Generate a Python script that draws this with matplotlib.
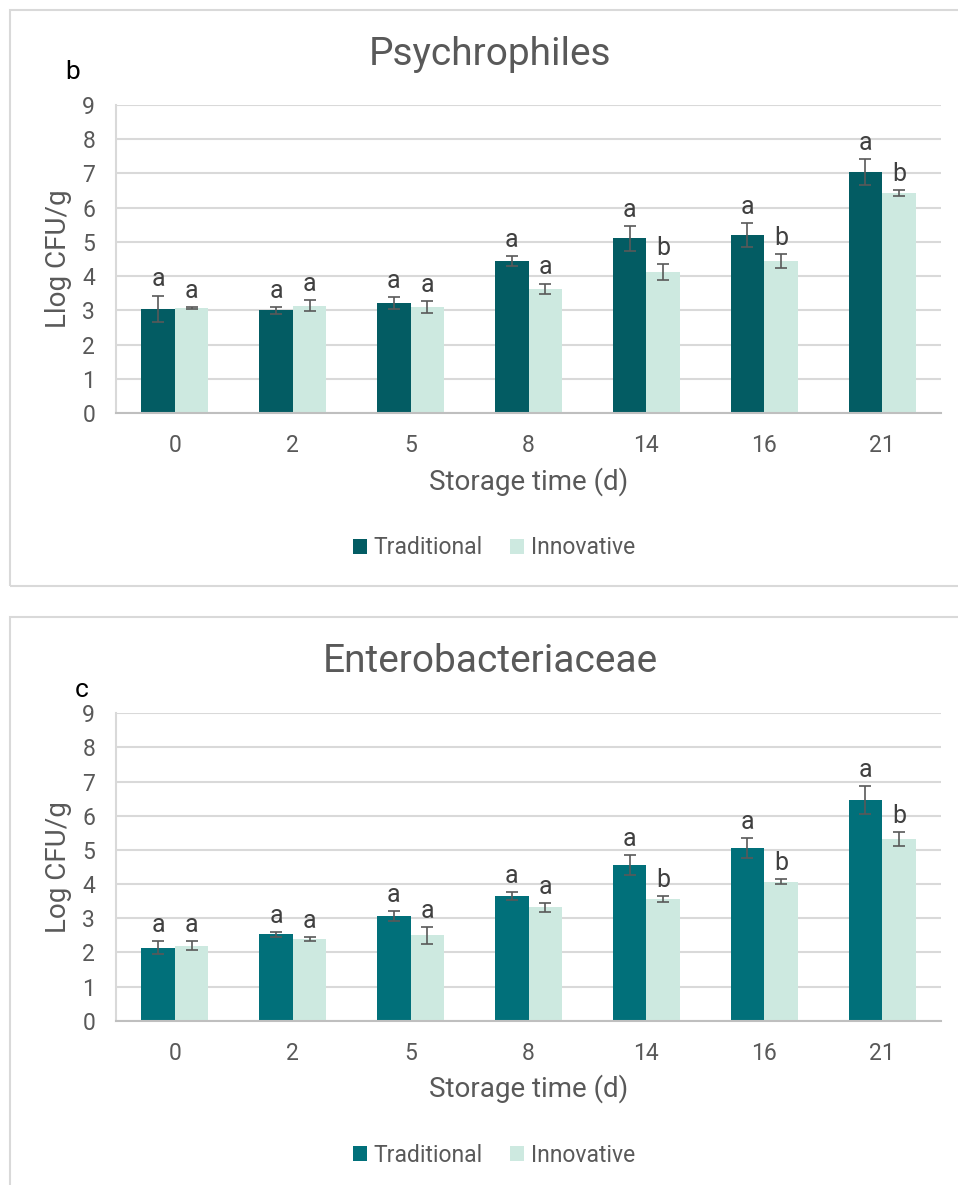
import numpy as np
import matplotlib
matplotlib.use('Agg')
from matplotlib import pyplot as plt
from matplotlib.patches import Rectangle

plt.rcParams['font.family'] = ['Roboto', 'DejaVu Sans']

days = ['0', '2', '5', '8', '14', '16', '21']
series = ['Traditional', 'Innovative']

# Psychrophiles (panel b)
psy_trad = [3.05, 3.00, 3.22, 4.44, 5.10, 5.20, 7.04]
psy_trad_err = [0.38, 0.10, 0.17, 0.15, 0.36, 0.36, 0.37]
psy_inno = [3.06, 3.13, 3.10, 3.63, 4.12, 4.44, 6.43]
psy_inno_err = [0.03, 0.16, 0.17, 0.15, 0.22, 0.20, 0.08]
psy_trad_letters = ['a', 'a', 'a', 'a', 'a', 'a', 'a']
psy_inno_letters = ['a', 'a', 'a', 'a', 'b', 'b', 'b']

# Enterobacteriaceae (panel c)
ent_trad = [2.13, 2.53, 3.06, 3.65, 4.56, 5.05, 6.46]
ent_trad_err = [0.19, 0.07, 0.14, 0.12, 0.30, 0.30, 0.40]
ent_inno = [2.19, 2.39, 2.50, 3.32, 3.56, 4.07, 5.32]
ent_inno_err = [0.13, 0.07, 0.25, 0.13, 0.08, 0.07, 0.21]
ent_trad_letters = ['a', 'a', 'a', 'a', 'a', 'a', 'a']
ent_inno_letters = ['a', 'a', 'a', 'a', 'b', 'b', 'b']

TEXT = '#595959'
INNO_COLOR = '#CDE9E0'

fig = plt.figure(figsize=(9.58, 11.85), dpi=100)

# chart borders like the Excel chart areas
fig.patches.append(Rectangle((10 / 958, 1 - 586 / 1185), 960 / 958, 576 / 1185,
                             transform=fig.transFigure, fill=False,
                             edgecolor='#D9D9D9', linewidth=1.5))
fig.patches.append(Rectangle((10 / 958, 1 - 1195 / 1185), 960 / 958, 578 / 1185,
                             transform=fig.transFigure, fill=False,
                             edgecolor='#D9D9D9', linewidth=1.5))


def draw_panel(rect, title, title_y, tag, tag_xy, ylabel, trad, trad_err, inno, inno_err,
               trad_letters, inno_letters, trad_color):
    ax = fig.add_axes(rect)
    x = np.arange(len(days))
    w = 0.284
    ax.bar(x - w / 2, trad, w, color=trad_color, label=series[0], zorder=2)
    ax.bar(x + w / 2, inno, w, color=INNO_COLOR, label=series[1], zorder=2)
    ax.errorbar(x - w / 2, trad, yerr=trad_err, fmt='none', ecolor=TEXT,
                elinewidth=1.2, capsize=4, capthick=1.2, zorder=3)
    ax.errorbar(x + w / 2, inno, yerr=inno_err, fmt='none', ecolor=TEXT,
                elinewidth=1.2, capsize=4, capthick=1.2, zorder=3)

    # significance letters above the error bars
    for xi, v, e, s in zip(x - w / 2, trad, trad_err, trad_letters):
        ax.annotate(s, (xi, v + e), xytext=(0, 3), textcoords='offset points',
                    ha='center', va='bottom', fontsize=18, color='#404040')
    for xi, v, e, s in zip(x + w / 2, inno, inno_err, inno_letters):
        ax.annotate(s, (xi, v + e), xytext=(0, 3), textcoords='offset points',
                    ha='center', va='bottom', fontsize=18, color='#404040')

    ax.set_xlim(-0.5, len(days) - 0.5)
    ax.set_ylim(0, 9)
    ax.set_yticks(range(0, 10))
    ax.set_xticks(x)
    ax.set_xticklabels(days)
    ax.grid(axis='y', color='#D9D9D9', linewidth=1.5, zorder=0)
    ax.set_axisbelow(True)
    for side in ['top', 'right']:
        ax.spines[side].set_visible(False)
    ax.spines['left'].set_color('#D9D9D9')
    ax.spines['left'].set_linewidth(1.5)
    ax.spines['bottom'].set_color('#BFBFBF')
    ax.spines['bottom'].set_linewidth(1.5)
    ax.tick_params(axis='both', length=0, labelsize=16.5, labelcolor=TEXT)
    ax.tick_params(axis='y', pad=15)
    ax.tick_params(axis='x', pad=15)

    ax.set_ylabel(ylabel, fontsize=20, color=TEXT)
    ax.yaxis.set_label_coords(-0.053, 0.5)
    ax.set_xlabel('Storage time (d)', fontsize=20, color=TEXT)
    ax.xaxis.set_label_coords(0.5, -0.175)

    ax.legend(loc='center', bbox_to_anchor=(0.458, -0.438), ncol=2, frameon=False,
              fontsize=16.5, labelcolor=TEXT, handlelength=0.6, handleheight=0.6,
              handletextpad=0.3, columnspacing=1.2)

    fig.text(490 / 958, title_y, title, ha='center', va='baseline', fontsize=28, color=TEXT)
    fig.text(tag_xy[0], tag_xy[1], tag, ha='left', va='baseline', fontsize=19, color='black')
    return ax


draw_panel([116 / 958, 1 - 413 / 1185, 825 / 958, 308 / 1185], 'Psychrophiles', 1 - 65 / 1185,
           'b', (65 / 958, 1 - 79 / 1185), 'Llog CFU/g',
           psy_trad, psy_trad_err, psy_inno, psy_inno_err,
           psy_trad_letters, psy_inno_letters, '#035C63')

draw_panel([116 / 958, 1 - 1020.7 / 1185, 825 / 958, 307.4 / 1185], 'Enterobacteriaceae',
           1 - 671.7 / 1185, 'c', (75 / 958, 1 - 696.7 / 1185), 'Log CFU/g',
           ent_trad, ent_trad_err, ent_inno, ent_inno_err,
           ent_trad_letters, ent_inno_letters, '#01707A')

fig.savefig('out.png', dpi=100)
